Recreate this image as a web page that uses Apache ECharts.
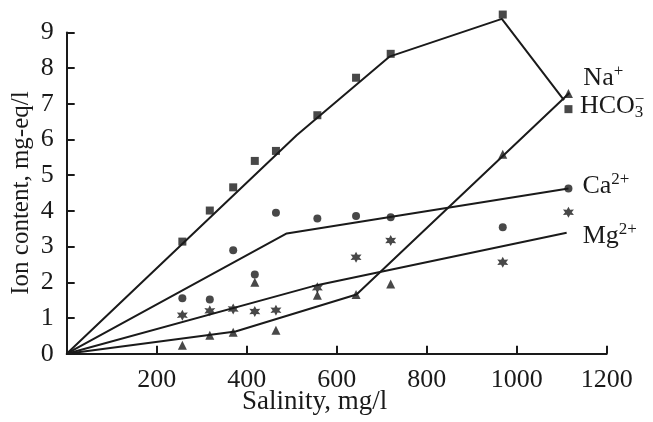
<!DOCTYPE html>
<html>
<head>
<meta charset="utf-8">
<script src="https://cdn.jsdelivr.net/npm/echarts@6/dist/echarts.min.js"></script>
<style>
  html, body { margin: 0; padding: 0; background: #fff; }
  #chart { width: 653px; height: 422px; }
</style>
</head>
<body>
<div id="chart"></div>
<script>
// salinity of the samples, mg/l
const salinity = [257, 318, 370, 418, 465, 557, 643, 720, 969, 1115]

// measured ion content, mg-eq/l
const hco3 = [3.14, 4.01, 4.66, 5.40, 5.68, 6.68, 7.73, 8.40, 9.50, 6.85]
const na = [0.24, 0.52, 0.60, 2.00, 0.66, 1.64, 1.66, 1.95, 5.59, 7.29]
const ca = [1.55, 1.52, 2.90, 2.22, 3.95, 3.79, 3.86, 3.82, 3.54, 4.63]
const mg = [1.08, 1.20, 1.25, 1.18, 1.22, 1.85, 2.70, 3.17, 2.56, 3.96]

// trend lines (salinity, content)
const hco3LineX = [0, 511, 717, 967, 1105]
const hco3LineY = [0, 6.12, 8.32, 9.38, 7.10]
const naLineX = [0, 375, 644, 1117]
const naLineY = [0, 0.62, 1.66, 7.30]
const caLineX = [0, 489, 1115]
const caLineY = [0, 3.37, 4.63]
const mgLineX = [0, 556, 1111]
const mgLineY = [0, 1.92, 3.39]

const xTicks = [0, 200, 400, 600, 800, 1000, 1200]
const yTicks = [0, 1, 2, 3, 4, 5, 6, 7, 8, 9]

const ink = '#1a1a1a'
const serif = 'Times New Roman, Liberation Serif, serif'
const star = 'path://M0,-10 L-2.6,-4.5 L-8.66,-5 L-5.2,0 L-8.66,5 L-2.6,4.5 L0,10 L2.6,4.5 L8.66,5 L5.2,0 L8.66,-5 L2.6,-4.5 Z'

const pairs = (xs, ys) => xs.map((x, i) => [x, ys[i]])

const richText = {
  base: { fontFamily: serif, fontSize: 26, color: ink, lineHeight: 30 },
  sup: { fontFamily: serif, fontSize: 17, color: ink, verticalAlign: 'top', lineHeight: 30, padding: [0, 0, 12, 0] },
  supz: { fontFamily: serif, fontSize: 17, color: ink, verticalAlign: 'top', lineHeight: 30, padding: [0, 0, 12, 0], width: 0 },
  sub: { fontFamily: serif, fontSize: 17, color: ink, verticalAlign: 'bottom', lineHeight: 30, padding: [12, 0, 0, 0] }
}

function trend (name, xs, ys, text, offset) {
  return {
    name: name,
    type: 'line',
    data: pairs(xs, ys),
    showSymbol: false,
    symbol: 'none',
    silent: true,
    clip: false,
    lineStyle: { color: ink, width: 2 },
    endLabel: {
      show: true,
      formatter: text,
      offset: offset,
      rich: richText
    },
    z: 2
  }
}

function dots (name, ys, symbol, size) {
  return {
    name: name,
    type: 'scatter',
    data: pairs(salinity, ys),
    symbol: symbol,
    symbolSize: size,
    clip: false,
    itemStyle: { color: ink },
    z: 3
  }
}

const mychart = echarts.init(document.getElementById('chart'))
const option = {
  animation: false,
  backgroundColor: '#fff',
  grid: {
    left: 66.7,
    right: 46.3,
    top: 32.4,
    bottom: 68.3,
    outerBoundsMode: 'none'
  },
  xAxis: {
    type: 'value',
    min: xTicks[0],
    max: xTicks[xTicks.length - 1],
    interval: 200,
    name: 'Salinity, mg/l',
    nameLocation: 'middle',
    nameGap: 35,
    nameMoveOverlap: false,
    nameTextStyle: { fontFamily: serif, fontSize: 27, color: ink, padding: [0, 44, 0, 0] },
    axisLine: { lineStyle: { color: ink, width: 2 } },
    axisTick: { inside: true, length: 8, lineStyle: { color: ink, width: 2 } },
    axisLabel: {
      fontFamily: serif,
      fontSize: 26,
      color: ink,
      margin: 13,
      formatter: v => (v === 0 ? '' : String(v))
    },
    splitLine: { show: false }
  },
  yAxis: {
    type: 'value',
    min: yTicks[0],
    max: yTicks[yTicks.length - 1],
    interval: 1,
    name: 'Ion content, mg-eq/l',
    nameLocation: 'middle',
    nameGap: 33,
    nameMoveOverlap: false,
    nameTextStyle: { fontFamily: serif, fontSize: 25, color: ink },
    axisLine: { show: true, lineStyle: { color: ink, width: 2 } },
    axisTick: { show: true, inside: true, length: 8, lineStyle: { color: ink, width: 2 } },
    axisLabel: { fontFamily: serif, fontSize: 26, color: ink, margin: 13 },
    splitLine: { show: false }
  },
  series: [
    trend('HCO3 line', hco3LineX, hco3LineY, '{base|HCO}{supz|−}{sub|3}', [8, 6]),
    trend('Na line', naLineX, naLineY, '{base|Na}{sup|+}', [6, -15]),
    trend('Ca line', caLineX, caLineY, '{base|Ca}{sup|2+}', [6, -2]),
    trend('Mg line', mgLineX, mgLineY, '{base|Mg}{sup|2+}', [8, 3]),
    dots('HCO3', hco3, 'rect', 8),
    dots('Na', na, 'triangle', 9),
    dots('Ca', ca, 'circle', 8),
    dots('Mg', mg, star, 11)
  ]
}
mychart.setOption(option)
</script>
</body>
</html>
